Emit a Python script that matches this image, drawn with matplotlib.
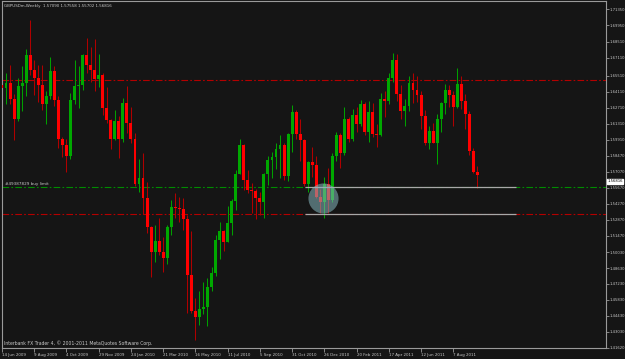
import matplotlib
matplotlib.use("Agg")
import matplotlib.pyplot as plt
import matplotlib.transforms as mtrans

# weekly GBPUSD candles, first bar = week of 14 Jun 2009
opens = [1.6470, 1.6440, 1.6490, 1.6350, 1.6170, 1.6460, 1.6490, 1.6730, 1.6600, 1.6530,
         1.6470, 1.6300, 1.6370, 1.6590, 1.6340, 1.6000, 1.5940, 1.5850, 1.6340, 1.6460,
         1.6470, 1.6730, 1.6650, 1.6600, 1.6520, 1.6560, 1.6270, 1.6160, 1.6000, 1.6150,
         1.6000, 1.6310, 1.6140, 1.6000, 1.5600, 1.5650, 1.5480, 1.5220, 1.5000, 1.5100,
         1.5000, 1.4950, 1.5220, 1.5400, 1.5390, 1.5380, 1.5290, 1.4800, 1.4490, 1.4430,
         1.4500, 1.4520, 1.4700, 1.4820, 1.5110, 1.5190, 1.5090, 1.5260, 1.5450, 1.5690,
         1.5940, 1.5640, 1.5550, 1.5540, 1.5480, 1.5440, 1.5690, 1.5810, 1.5840, 1.5910,
         1.5940, 1.5670, 1.6040, 1.6230, 1.6040, 1.5990, 1.5600, 1.5790, 1.5770, 1.5490,
         1.5440, 1.5600, 1.5460, 1.5850, 1.6030, 1.5870, 1.6170, 1.6000, 1.6210, 1.6130,
         1.6300, 1.6060, 1.6230, 1.6040, 1.6030, 1.6350, 1.6330, 1.6530, 1.6690, 1.6390,
         1.6240, 1.6290, 1.6490, 1.6430, 1.6380, 1.6200, 1.5960, 1.6070, 1.5960, 1.6170,
         1.6310, 1.6430, 1.6380, 1.6280, 1.6480, 1.6330, 1.6220, 1.5890, 1.5709]
highs = [1.6560, 1.6575, 1.6650, 1.6390, 1.6530, 1.6640, 1.6790, 1.7045, 1.6690, 1.6650,
         1.6650, 1.6420, 1.6720, 1.6640, 1.6370, 1.6010, 1.6000, 1.6400, 1.6690, 1.6640,
         1.6740, 1.6880, 1.6800, 1.6870, 1.6740, 1.6580, 1.6450, 1.6170, 1.6250, 1.6200,
         1.6360, 1.6460, 1.6280, 1.6050, 1.5820, 1.5870, 1.5620, 1.5230, 1.5240, 1.5300,
         1.5140, 1.5240, 1.5460, 1.5520, 1.5490, 1.5480, 1.5330, 1.5190, 1.4600, 1.4660,
         1.4740, 1.4780, 1.4870, 1.5150, 1.5270, 1.5200, 1.5410, 1.5470, 1.5720, 1.5995,
         1.5950, 1.5720, 1.5610, 1.5560, 1.5530, 1.5700, 1.5850, 1.5880, 1.5960, 1.6030,
         1.5960, 1.6050, 1.6298, 1.6250, 1.6170, 1.6000, 1.5800, 1.5930, 1.5850, 1.5560,
         1.5660, 1.5740, 1.5870, 1.6060, 1.6050, 1.6280, 1.6190, 1.6260, 1.6280, 1.6340,
         1.6320, 1.6330, 1.6310, 1.6130, 1.6400, 1.6420, 1.6580, 1.6747, 1.6740, 1.6470,
         1.6350, 1.6550, 1.6580, 1.6550, 1.6420, 1.6250, 1.6110, 1.6140, 1.6220, 1.6320,
         1.6480, 1.6470, 1.6420, 1.6618, 1.6550, 1.6390, 1.6240, 1.5920, 1.57558]
lows = [1.6220, 1.6300, 1.6300, 1.5990, 1.6150, 1.6240, 1.6370, 1.6560, 1.6380, 1.6320,
        1.6250, 1.6130, 1.6350, 1.6290, 1.5920, 1.5840, 1.5707, 1.5820, 1.6300, 1.6270,
        1.6430, 1.6580, 1.6500, 1.6420, 1.6450, 1.6210, 1.6140, 1.5910, 1.5990, 1.5830,
        1.5970, 1.6050, 1.5960, 1.5580, 1.5530, 1.5340, 1.5170, 1.4781, 1.4920, 1.4980,
        1.4830, 1.4900, 1.5150, 1.5300, 1.5270, 1.5200, 1.4470, 1.4470, 1.4229, 1.4360,
        1.4460, 1.4350, 1.4660, 1.4790, 1.4940, 1.5010, 1.5090, 1.5150, 1.5370, 1.5690,
        1.5550, 1.5520, 1.5350, 1.5290, 1.5330, 1.5300, 1.5590, 1.5650, 1.5730, 1.5650,
        1.5640, 1.5630, 1.5880, 1.6000, 1.5800, 1.5580, 1.5535, 1.5660, 1.5480, 1.5350,
        1.5300, 1.5350, 1.5440, 1.5800, 1.5740, 1.5860, 1.5970, 1.5980, 1.6060, 1.6110,
        1.6030, 1.5970, 1.6010, 1.5930, 1.6020, 1.6190, 1.6300, 1.6500, 1.6330, 1.6170,
        1.6110, 1.6240, 1.6310, 1.6320, 1.6080, 1.5940, 1.5910, 1.5960, 1.5780, 1.6060,
        1.6220, 1.6280, 1.6110, 1.6270, 1.6260, 1.6080, 1.5860, 1.5700, 1.55702]
closes = [1.6440, 1.6490, 1.6350, 1.6170, 1.6460, 1.6490, 1.6730, 1.6600, 1.6530, 1.6470,
          1.6300, 1.6370, 1.6590, 1.6340, 1.6000, 1.5940, 1.5850, 1.6340, 1.6460, 1.6470,
          1.6730, 1.6650, 1.6600, 1.6520, 1.6560, 1.6270, 1.6160, 1.6000, 1.6150, 1.6000,
          1.6310, 1.6140, 1.6000, 1.5600, 1.5650, 1.5480, 1.5220, 1.5000, 1.5100, 1.5000,
          1.4950, 1.5220, 1.5400, 1.5390, 1.5380, 1.5290, 1.4800, 1.4490, 1.4430, 1.4500,
          1.4520, 1.4700, 1.4820, 1.5110, 1.5190, 1.5090, 1.5260, 1.5450, 1.5690, 1.5940,
          1.5640, 1.5550, 1.5540, 1.5480, 1.5440, 1.5690, 1.5810, 1.5840, 1.5910, 1.5940,
          1.5670, 1.6040, 1.6230, 1.6040, 1.5990, 1.5600, 1.5790, 1.5770, 1.5490, 1.5440,
          1.5600, 1.5460, 1.5850, 1.6030, 1.5870, 1.6170, 1.6000, 1.6210, 1.6130, 1.6300,
          1.6060, 1.6230, 1.6040, 1.6030, 1.6350, 1.6330, 1.6530, 1.6690, 1.6390, 1.6240,
          1.6290, 1.6490, 1.6430, 1.6380, 1.6200, 1.5960, 1.6070, 1.5960, 1.6170, 1.6310,
          1.6430, 1.6380, 1.6280, 1.6480, 1.6330, 1.6220, 1.5890, 1.5709, 1.56816]

date_labels = ["14 Jun 2009", "9 Aug 2009", "4 Oct 2009", "29 Nov 2009", "24 Jan 2010",
               "21 Mar 2010", "16 May 2010", "11 Jul 2010", "5 Sep 2010", "31 Oct 2010",
               "26 Dec 2010", "20 Feb 2011", "17 Apr 2011", "12 Jun 2011", "7 Aug 2011"]
date_idx = [0, 8, 16, 24, 32, 40, 48, 56, 64, 72, 80, 88, 96, 104, 112]

price_ticks = [1.71350, 1.69950, 1.68510, 1.67110, 1.65510, 1.64110, 1.62710, 1.61310,
               1.59910, 1.58470, 1.57070, 1.55670, 1.54270, 1.52870, 1.51470, 1.50030,
               1.48630, 1.47230, 1.45830, 1.44430, 1.43030, 1.41620]

# horizontal levels
red_levels = [1.6514, 1.5339]
buy_limit = 1.5572
seg_levels = [1.5572, 1.5342]
seg_start, seg_end = 75.2, 127.6
circle_x, circle_y = 79.6, 1.5476

BG = "#151515"
FG = "#c8c8c8"
AX = "#9a9a9a"

fig = plt.figure(figsize=(6.25, 3.59), dpi=100, facecolor=BG)
ax = fig.add_axes([2 / 625, 11 / 359, 604 / 625, 347 / 359], facecolor=BG)

for i in range(len(opens)):
    o, h, l, c = opens[i], highs[i], lows[i], closes[i]
    up = c >= o
    wick = "#00a000" if up else "#b00000"
    body = "#00a800" if up else "#ff0000"
    ax.vlines(i, l, h, color=wick, lw=0.75, zorder=2)
    ax.bar(i, max(abs(c - o), 0.0004), bottom=min(o, c), width=0.72,
           color=body, linewidth=0, zorder=3)

dash = (0, (6, 2, 1.5, 2))
for lv in red_levels:
    ax.axhline(lv, color="#b40000", lw=0.8, ls=dash, zorder=1)
ax.axhline(buy_limit, color="#008c00", lw=0.8, ls=dash, zorder=1)
ax.hlines(seg_levels, seg_start, seg_end, color="#a8a8a8", lw=0.9, zorder=4)
ax.scatter([circle_x], [circle_y], s=470, color="#86b6bd", alpha=0.55,
           linewidths=0, zorder=5)

ax.text(0.8, buy_limit + 0.0009, "#49387829 buy limit", color=FG, fontsize=3.0,
        va="bottom", ha="left", zorder=6)
ax.text(0.003, 0.992, "GBPUSDm,Weekly  1.57090 1.57558 1.55702 1.56816",
        transform=ax.transAxes, color=FG, fontsize=2.9, va="top", ha="left")
ax.text(0.003, 0.007,
        "Interbank FX Trader 4, \u00a9 2001-2011 MetaQuotes Software Corp.",
        transform=ax.transAxes, color=FG, fontsize=3.3, va="bottom", ha="left")

ax.set_xlim(0.074, 149.9)
ax.set_ylim(1.4161, 1.7208)

ax.yaxis.tick_right()
ax.set_yticks(price_ticks)
ax.set_yticklabels(["%.5f" % p for p in price_ticks])
ax.set_xticks(date_idx)
ax.set_xticklabels(date_labels)
for lbl in ax.get_xticklabels():
    lbl.set_horizontalalignment("left")
ax.tick_params(axis="y", length=2.0, width=0.6, color=AX, labelcolor=FG,
               labelsize=2.7, pad=0.5)
ax.tick_params(axis="x", length=3, width=0.6, color=AX, labelcolor=FG,
               labelsize=2.9, pad=0.8)
for s in ax.spines.values():
    s.set_color(AX)
    s.set_linewidth(0.8)

# last price marker on the price scale
tr = mtrans.blended_transform_factory(ax.transAxes, ax.transData)
ax.text(1.002, closes[-1] - 0.0058, "%.5f" % closes[-1], transform=tr, fontsize=2.7,
        color="black", va="center", ha="left", zorder=7,
        bbox=dict(boxstyle="square,pad=0.12", fc="white", ec="white"))

fig.savefig("out.png", dpi=100, facecolor=BG)
